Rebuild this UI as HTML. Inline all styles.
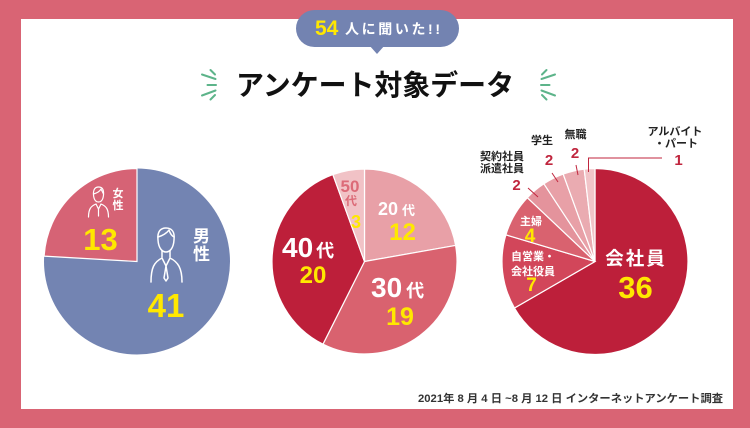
<!DOCTYPE html>
<html><head><meta charset="utf-8"><style>
html,body{margin:0;padding:0;background:#d96474;}
svg{display:block;}
text{font-family:"Liberation Sans","Noto Sans CJK JP",sans-serif;font-weight:bold;}
</style></head><body>
<svg width="750" height="428" viewBox="0 0 750 428" xmlns="http://www.w3.org/2000/svg">
<rect x="0" y="0" width="750" height="428" fill="#d96474"/>
<rect x="21" y="19" width="712" height="390" fill="#ffffff"/>

<!-- bubble -->
<rect x="296" y="10" width="163" height="37" rx="18.5" fill="#7383b1"/>
<polygon points="369,45 385,45 377,54" fill="#7383b1"/>
<text x="315" y="35" font-size="21" fill="#ffe800">54</text>
<text x="345" y="34" font-size="14" fill="#ffffff" textLength="95" lengthAdjust="spacing">人に聞いた!!</text>

<!-- title -->
<text x="236" y="95" font-size="28.5" fill="#111" textLength="278" lengthAdjust="spacingAndGlyphs">アンケート対象データ</text>
<g stroke="#5db48a" stroke-width="2" stroke-linecap="round" fill="none">
<line x1="210.5" y1="70" x2="215" y2="74.5"/>
<line x1="202" y1="74.5" x2="215.5" y2="79"/>
<line x1="207.5" y1="85" x2="216" y2="85"/>
<line x1="202" y1="95.5" x2="215.5" y2="90.5"/>
<line x1="210.5" y1="99.5" x2="215" y2="95"/>
<line x1="546.5" y1="70" x2="542" y2="74.5"/>
<line x1="555" y1="74.5" x2="541.5" y2="79"/>
<line x1="549.5" y1="85" x2="541" y2="85"/>
<line x1="555" y1="95.5" x2="541.5" y2="90.5"/>
<line x1="546.5" y1="99.5" x2="542" y2="95"/>
</g>

<!-- pie 1 -->
<circle cx="137" cy="261.5" r="93" fill="#7384b2"/>
<path d="M137,261.5 L44.15,256.15 A93,93 0 0,1 137,168.5 Z" fill="#d66375" stroke="#ffffff" stroke-width="1.2"/>
<!-- male icon -->
<g stroke="#ffffff" stroke-width="1.5" fill="none" stroke-linejoin="round" stroke-linecap="round">
<path d="M158,240 C157,231 161,228 166,228 C172,228 175,232 174,240 C173.5,248 170,252 166,252 C162,252 158.5,248 158,240 Z"/>
<path d="M158,237 C162,236 167,233 169,230 C170,233 172,236 174,237"/>
<path d="M162,251 L162,257 M170,251 L170,257"/>
<path d="M151,282 C151,268 154,262 162,258 L166,266 L170,258 C178,262 182,268 182,282"/>
<path d="M166,266 L164,278 L166,281 L168,278 Z"/>
</g>
<text x="201.5" y="242" font-size="17" fill="#ffffff" text-anchor="middle">男</text>
<text x="201.5" y="260" font-size="17" fill="#ffffff" text-anchor="middle">性</text>
<text x="166" y="317" font-size="33" fill="#ffe800" text-anchor="middle">41</text>
<!-- female icon -->
<g stroke="#ffffff" stroke-width="1.2" fill="none" stroke-linejoin="round" stroke-linecap="round">
<path d="M93.5,195 C93,189 95.5,187 98.5,187 C102,187 104,189 103.5,195 C103,200 101,202 98.5,202 C96,202 94,200 93.5,195 Z"/>
<path d="M93.5,194 C97,193 100,191 101,189 C102,191 103,193 103.5,194"/>
<path d="M88.5,217 C88.5,209 91,206 96,204 L98.5,209 L101,204 C106,206 108.5,209 108.5,217"/>
<path d="M98.5,209 L98.5,216"/>
</g>
<text x="118" y="197" font-size="11" fill="#ffffff" text-anchor="middle">女</text>
<text x="118" y="209" font-size="11" fill="#ffffff" text-anchor="middle">性</text>
<text x="100.5" y="250" font-size="31" fill="#ffe800" text-anchor="middle">13</text>

<!-- pie 2 -->
<g stroke="#ffffff" stroke-width="1.2">
<path d="M364.5,261.5 L364.5,169 A92.5,92.5 0 0,1 455.59,245.44 Z" fill="#e8a0a7"/>
<path d="M364.5,261.5 L455.59,245.44 A92.5,92.5 0 0,1 322.99,344.16 Z" fill="#d9626f"/>
<path d="M364.5,261.5 L322.99,344.16 A92.5,92.5 0 0,1 332.86,174.58 Z" fill="#bd1f3a"/>
<path d="M364.5,261.5 L332.86,174.58 A92.5,92.5 0 0,1 364.5,169 Z" fill="#f1c2c6"/>
</g>
<text x="378" y="215" font-size="18" fill="#ffffff">20<tspan font-size="13" dx="4">代</tspan></text>
<text x="402.5" y="240" font-size="24" fill="#ffe800" text-anchor="middle">12</text>
<text x="371" y="297" font-size="28" fill="#ffffff">30<tspan font-size="18" dx="4">代</tspan></text>
<text x="400" y="325" font-size="25" fill="#ffe800" text-anchor="middle">19</text>
<text x="282" y="257" font-size="28" fill="#ffffff">40<tspan font-size="18" dx="3">代</tspan></text>
<text x="313" y="283" font-size="24" fill="#ffe800" text-anchor="middle">20</text>
<text x="350" y="192" font-size="17" fill="#dc6b78" text-anchor="middle">50</text>
<text x="351" y="205" font-size="12" fill="#dc6b78" text-anchor="middle">代</text>
<text x="356" y="228" font-size="18" fill="#ffe800" text-anchor="middle">3</text>

<!-- pie 3 -->
<g stroke="#ffffff" stroke-width="1.2">
<path d="M595,261.5 L595,168.5 A93,93 0 1,1 514.46,308 Z" fill="#bd1f3a"/>
<path d="M595,261.5 L514.46,308 A93,93 0 0,1 505.91,234.83 Z" fill="#d2465a"/>
<path d="M595,261.5 L505.91,234.83 A93,93 0 0,1 527.35,197.68 Z" fill="#d9626f"/>
<path d="M595,261.5 L527.35,197.68 A93,93 0 0,1 543.90,183.80 Z" fill="#e4939c"/>
<path d="M595,261.5 L543.90,183.80 A93,93 0 0,1 563.19,174.11 Z" fill="#e8a0a7"/>
<path d="M595,261.5 L563.19,174.11 A93,93 0 0,1 584.20,169.13 Z" fill="#eaabb1"/>
<path d="M595,261.5 L584.20,169.13 A93,93 0 0,1 595,168.5 Z" fill="#f1c4c8"/>
</g>
<text x="636" y="265" font-size="18.5" fill="#ffffff" text-anchor="middle" letter-spacing="2">会社員</text>
<text x="635.5" y="298" font-size="31" fill="#ffe800" text-anchor="middle">36</text>
<text x="533" y="260" font-size="11" fill="#ffffff" text-anchor="middle">自営業・</text>
<text x="533" y="275" font-size="11" fill="#ffffff" text-anchor="middle">会社役員</text>
<text x="531.5" y="291" font-size="19" fill="#ffe800" text-anchor="middle">7</text>
<text x="531" y="225" font-size="11" fill="#ffffff" text-anchor="middle">主婦</text>
<text x="530" y="242" font-size="19" fill="#ffe800" text-anchor="middle">4</text>

<!-- outside labels -->
<text x="502" y="160" font-size="11" fill="#222" text-anchor="middle">契約社員</text>
<text x="502" y="172" font-size="11" fill="#222" text-anchor="middle">派遣社員</text>
<text x="516.5" y="190" font-size="15" fill="#c0263e" text-anchor="middle">2</text>
<text x="542" y="144" font-size="11" fill="#222" text-anchor="middle">学生</text>
<text x="549" y="165" font-size="15" fill="#c0263e" text-anchor="middle">2</text>
<text x="575.5" y="138" font-size="11" fill="#222" text-anchor="middle">無職</text>
<text x="575" y="158" font-size="15" fill="#c0263e" text-anchor="middle">2</text>
<text x="675" y="135" font-size="11" fill="#222" text-anchor="middle">アルバイト</text>
<text x="676" y="147" font-size="11" fill="#222" text-anchor="middle">・パート</text>
<text x="678.5" y="165" font-size="15" fill="#c0263e" text-anchor="middle">1</text>
<g stroke="#c0263e" stroke-width="1" fill="none">
<line x1="528" y1="188" x2="538" y2="197"/>
<line x1="552" y1="173" x2="558" y2="182"/>
<line x1="576" y1="165" x2="578" y2="175"/>
<polyline points="588.5,172 588.5,158 662,158"/>
</g>

<!-- footer -->
<text x="418" y="402" font-size="11" fill="#333" textLength="305" lengthAdjust="spacingAndGlyphs">2021年 8 月 4 日 ~8 月 12 日 インターネットアンケート調査</text>
</svg>
</body></html>
